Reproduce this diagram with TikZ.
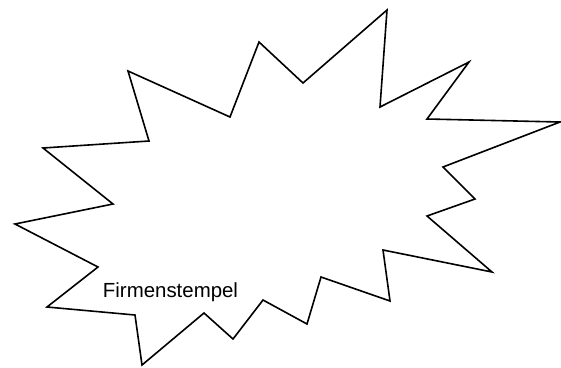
\documentclass[tikz,border=0pt]{standalone}
\usepackage{fontspec}
\setmainfont{Liberation Sans}
\usepackage{tikz}
\usetikzlibrary{positioning}
\tikzset{zacken/.style={draw=black, line width=1.6bp, line join=miter}}
\begin{document}
\begin{tikzpicture}[x=1bp,y=-1bp, font=\fontsize{20.5}{24}\selectfont]
  \useasboundingbox (0,0) rectangle (561,367);
  \draw[zacken] (43,148) -- (149,141) -- (128,71) -- (230,117) -- (259,42) -- (303,83)
    -- (387,10) -- (380,107) -- (469,62) -- (427,119) -- (560,122) -- (443,167)
    -- (475,199) -- (427,216) -- (492,272) -- (383,250) -- (390,301) -- (321,277)
    -- (307,324) -- (263,300) -- (233,339) -- (204,313) -- (142,365) -- (135,315)
    -- (47,307) -- (98,267) -- (15,224) -- (113,204) -- cycle;
  \node (stempel) at (170.5,292) {Firmenstempel};
\end{tikzpicture}
\end{document}
